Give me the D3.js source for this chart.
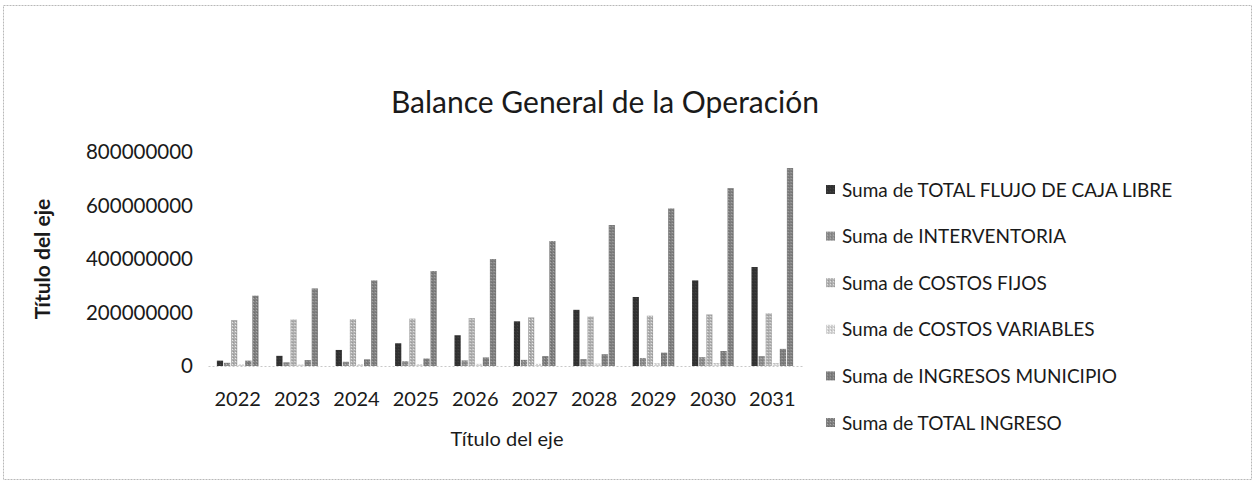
<!DOCTYPE html>
<html>
<head>
<meta charset="utf-8">
<script src="https://cdn.jsdelivr.net/npm/d3@7"></script>
<style>
  html, body { margin: 0; padding: 0; background: #fff; }
  svg text { font-family: Lato, "Open Sans", sans-serif; fill: #1a1a1a; }
</style>
</head>
<body>
<div id="chart"></div>
<script>
// Datos del gráfico
const years = ['2022', '2023', '2024', '2025', '2026', '2027', '2028', '2029', '2030', '2031'];
const seriesNames = [
  'Suma de TOTAL FLUJO DE CAJA LIBRE',
  'Suma de INTERVENTORIA',
  'Suma de COSTOS FIJOS',
  'Suma de COSTOS VARIABLES',
  'Suma de INGRESOS MUNICIPIO',
  'Suma de TOTAL INGRESO'
];
const flujoCaja = [20e6, 38e6, 60e6, 85e6, 115e6, 167e6, 210e6, 258e6, 320e6, 370e6];
const interventoria = [12e6, 14e6, 16e6, 18e6, 21e6, 23e6, 26e6, 30e6, 33e6, 37e6];
const costosFijos = [172e6, 174e6, 175e6, 177e6, 179e6, 182e6, 185e6, 188e6, 193e6, 197e6];
const costosVariables = [6e6, 6e6, 7e6, 7e6, 8e6, 8e6, 9e6, 10e6, 11e6, 11e6];
const ingresosMunicipio = [20e6, 22e6, 25e6, 28e6, 32e6, 37e6, 44e6, 50e6, 56e6, 64e6];
const totalIngreso = [263e6, 290e6, 320e6, 355e6, 400e6, 467e6, 527e6, 589e6, 665e6, 740e6];
const yTicks = [0, 200000000, 400000000, 600000000, 800000000];

const seriesValues = [flujoCaja, interventoria, costosFijos, costosVariables, ingresosMunicipio, totalIngreso];
// tonos grises (impresión escaneada)
const seriesColors = ['#333333', '#8c8c8c', '#b0b0b0', '#d2d2d2', '#7e7e7e', '#808080'];

const width = 1256, height = 486;
const plot = { left: 208, right: 802, top: 152, bottom: 366 };

const svg = d3.select('#chart').append('svg')
  .attr('width', width)
  .attr('height', height);

// textura tipo tramado
const defs = svg.append('defs');
seriesColors.forEach((c, i) => {
  const p = defs.append('pattern')
    .attr('id', 'pat' + i)
    .attr('width', 3).attr('height', 3)
    .attr('patternUnits', 'userSpaceOnUse');
  p.append('rect').attr('width', 3).attr('height', 3).attr('fill', c);
  p.append('rect').attr('x', 1).attr('y', 1).attr('width', 1).attr('height', 1)
    .attr('fill', d3.color(c).brighter(0.8));
  p.append('rect').attr('x', 2).attr('y', 0).attr('width', 1).attr('height', 1)
    .attr('fill', d3.color(c).darker(0.5));
});

// marco del gráfico
svg.append('rect')
  .attr('x', 3.5).attr('y', 5.5)
  .attr('width', 1248).attr('height', 474)
  .attr('fill', 'none')
  .attr('stroke', '#b8b8b8')
  .attr('stroke-dasharray', '2,1');

const x = d3.scaleBand()
  .domain(years)
  .range([plot.left, plot.right])
  .paddingInner(0.27)
  .paddingOuter(0.135);

const xInner = d3.scaleBand()
  .domain(d3.range(seriesNames.length))
  .range([0, x.bandwidth()])
  .padding(0.12);

const y = d3.scaleLinear()
  .domain([0, 800000000])
  .range([plot.bottom, plot.top]);

// título
svg.append('text')
  .attr('x', 605).attr('y', 113)
  .attr('text-anchor', 'middle')
  .style('font-size', '30px')
  .text('Balance General de la Operación');

// eje Y
const yAxis = svg.append('g')
  .attr('transform', `translate(${plot.left - 15},0)`)
  .call(d3.axisLeft(y).tickValues(yTicks).tickFormat(d3.format('d')).tickSize(0).tickPadding(0));
yAxis.select('.domain').remove();
yAxis.selectAll('text').style('font-size', '20.5px').attr('fill', '#1a1a1a');

// eje X
const xAxis = svg.append('g')
  .attr('transform', `translate(0,${plot.bottom})`)
  .call(d3.axisBottom(x).tickSize(0).tickPadding(26));
xAxis.select('.domain')
  .attr('stroke', '#c8c8c8')
  .attr('stroke-dasharray', '2,2');
xAxis.selectAll('text').style('font-size', '20px').attr('fill', '#1a1a1a');

// barras
const groups = svg.append('g').selectAll('g')
  .data(years)
  .join('g')
  .attr('transform', d => `translate(${x(d)},0)`);

groups.selectAll('rect')
  .data((d, i) => seriesValues.map((vals, s) => ({ s, v: vals[i] })))
  .join('rect')
  .attr('x', d => xInner(d.s))
  .attr('width', xInner.bandwidth())
  .attr('y', d => y(d.v))
  .attr('height', d => y(0) - y(d.v))
  .attr('fill', d => `url(#pat${d.s})`);

// títulos de ejes
svg.append('text')
  .attr('transform', `translate(50,259) rotate(-90)`)
  .attr('text-anchor', 'middle')
  .style('font-size', '21px')
  .style('font-weight', 'bold')
  .text('Título del eje');

svg.append('text')
  .attr('x', 507).attr('y', 446)
  .attr('text-anchor', 'middle')
  .style('font-size', '20px')
  .text('Título del eje');

// leyenda
const legend = svg.append('g')
  .selectAll('g')
  .data(seriesNames)
  .join('g')
  .attr('transform', (d, i) => `translate(826,${190 + i * 46.6})`);

legend.append('rect')
  .attr('x', 0).attr('y', -5)
  .attr('width', 9).attr('height', 9)
  .attr('fill', (d, i) => `url(#pat${i})`);

legend.append('text')
  .attr('x', 16).attr('y', 6.5)
  .style('font-size', '19px')
  .text(d => d);
</script>
</body>
</html>
